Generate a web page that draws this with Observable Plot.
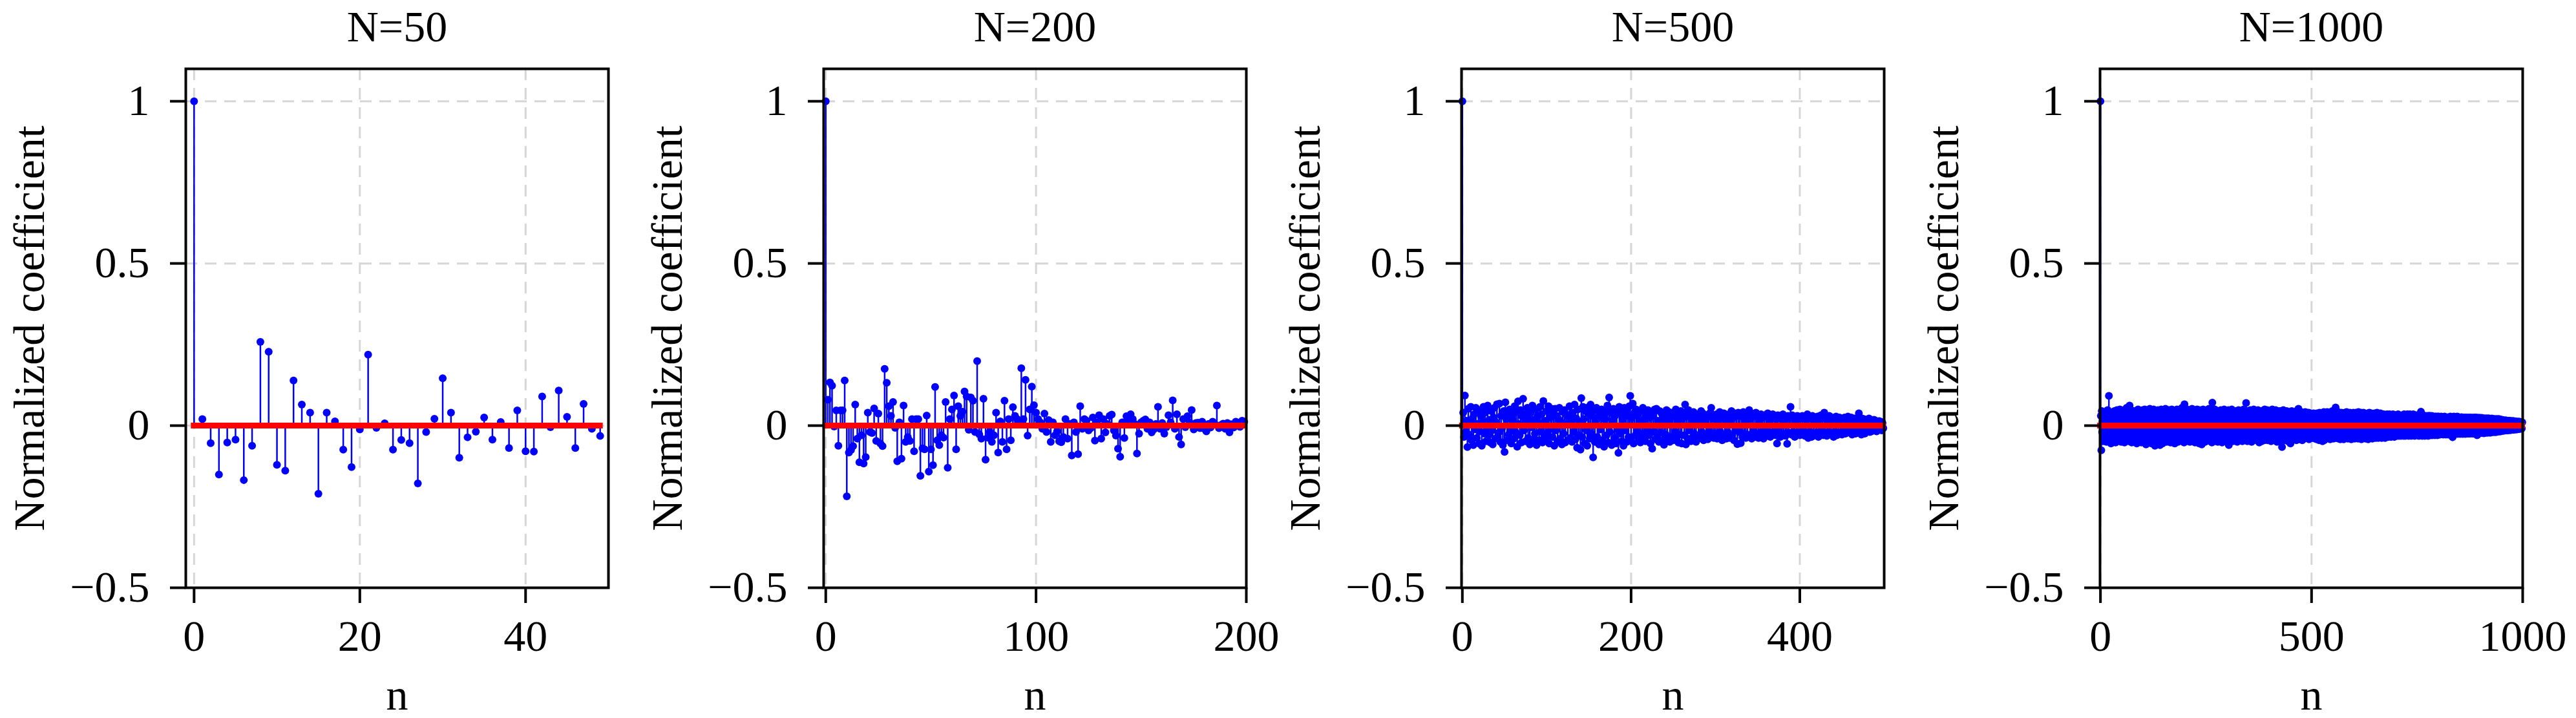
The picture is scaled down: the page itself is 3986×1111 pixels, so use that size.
<!DOCTYPE html>
<html>
<head>
<meta charset="utf-8">
<script src="https://cdn.jsdelivr.net/npm/d3@7"></script>
<script src="https://cdn.jsdelivr.net/npm/@observablehq/plot@0.6"></script>
<style>
  html, body { margin: 0; padding: 0; background: #ffffff; }
  #wrap { position: relative; width: 3986px; height: 1111px; overflow: hidden; background: #ffffff; }
  .panel { position: absolute; top: 0; }
</style>
</head>
<body>
<div id="wrap"></div>
<script>
// ---------------- DATA ----------------
const titles = ["N=50", "N=200", "N=500", "N=1000"];
const Ns = [50, 200, 500, 1000];
const xTicks = [[0, 20, 40], [0, 100, 200], [0, 200, 400], [0, 500, 1000]];
const yTicks = [-0.5, 0, 0.5, 1];
const yTickLabels = ["−0.5", "0", "0.5", "1"];
const xLabel = "n";
const yLabel = "Normalized coefficient";

// normalized coefficients, in thousandths
const coef50 = [
  1000, 20, -54, -151, -52, -43, -168, -62, 258, 228,
  -121, -139, 139, 65, 40, -210, 40, 13, -74, -128,
  -12, 219, -7, 7, -74, -44, -54, -178, -20, 21,
  146, 40, -99, -36, -19, 25, -43, 11, -69, 47,
  -79, -80, 90, -5, 108, 27, -69, 67, -10, -32
];

const coef200 = [
  1000, 80, 133, 123, -3, 47, -62, 47, 47, 139,
  -218, -83, -75, -63, 65, -40, -113, -30, -117, -97,
  40, -20, -23, 53, -47, 37, -55, -63, 175, 132,
  60, 30, 73, -7, -110, 10, -102, 62, -50, -35,
  -47, 20, -79, 20, 20, -155, -70, -73, 31, -142,
  -73, -122, 119, -45, -60, -30, -37, 73, -130, 20,
  50, 93, -73, 60, 30, 43, 105, 90, -13, 87,
  77, -20, 199, -27, -40, 83, -105, -37, -20, -50,
  -30, 40, -83, 13, -50, 77, -73, 20, -45, 57,
  30, 20, 10, 177, 20, 141, -31, 50, 120, 63,
  40, 20, 10, -10, 37, -20, 17, -50, 10, -30,
  -18, -48, -51, -35, 20, -40, 5, -92, 10, -20,
  -88, 60, -10, 20, 15, -15, -8, 25, -46, 10,
  32, -40, 20, -21, 5, 30, 34, -15, -31, -71,
  -96, 10, -38, 29, 15, 35, 20, 5, -86, -25,
  10, 15, 19, -10, 10, -21, -12, 5, 58, -10,
  8, -25, -5, 32, 10, 78, -10, 35, -35, -58,
  20, -5, 29, 10, 48, -12, 8, 9, -8, 12,
  -10, -18, 5, -6, 12, 4, 62, -8, 2, 6,
  -10, 8, -21, 4, -6, 12, 8, -4, 15, 12
];

const coef500 = [
  1000, 40, -35, 93, -20, 15, -66, 52, -28, 8,
  58, -45, 22, -60, 35, -12, 55, -38, 5, 48,
  -55, -18, 30, -62, 12, 58, -25, 40, -48, -8,
  62, -30, 18, -52, 45, -15, -58, 25, 55, -40,
  10, 66, -35, -22, 68, -50, 30, -8, -60, 45,
  -81, 72, 20, -45, 38, -28, 50, -12, -55, 33,
  15, -40, 60, -20, 42, -65, 75, 5, -30, 48,
  -52, 28, 83, -15, 35, -48, 12, 55, -38, 22,
  -58, 40, -5, 62, -42, 18, -25, 50, -60, 30,
  8, -45, 58, -18, 35, -52, 76, -30, 15, -40,
  45, -22, 60, -55, 25, -10, 52, -35, 38, -62,
  52, -15, 30, -48, 20, 55, -40, 10, -58, 42,
  -25, 48, -52, 35, 5, -45, 28, 60, -38, 15,
  -50, 40, -20, 65, -42, 22, -68, 50, -30, 10,
  -74, 85, -35, 58, 20, -55, 45, -15, -62, 38,
  58, -40, 65, -25, 30, -98, 48, -50, 18, 55,
  -35, 25, -58, 42, -12, 50, -45, 35, -65, 20,
  48, -30, 62, -52, 87, -20, 40, -60, 15, 52,
  -38, 30, -55, 45, -10, -84, 58, -25, 38, -48,
  20, -62, 55, -15, 42, -50, 30, -35, 60, 92,
  -40, 25, 68, -55, 40, -30, 50, -20, 35, -45,
  15, -52, 45, -25, 55, -38, 20, -48, 38, -10,
  48, -30, 25, -55, 40, -71, 30, -20, 50, -42,
  52, -35, 15, -50, 45, -22, 38, -45, 20, -59,
  35, -28, 48, -40, 12, 42, -50, 25, -35, 40,
  -45, 30, -20, 50, -38, 15, -52, 35, -28, 45,
  -55, 22, 40, -30, 65, -58, 28, -40, 48, -15,
  38, -48, 20, -35, 42, -25, 30, -50, 15, 35,
  -40, 25, -30, 45, -20, 38, -45, 12, 32, -35,
  28, -42, 35, -18, 40, 55, -30, 22, -38, 30,
  -25, 35, -40, 18, -30, 42, -20, 30, -45, 25,
  38, -32, 15, -40, 28, -22, 35, -38, 20, 45,
  -30, 25, -45, 38, -15, 30, -57, 40, -20, 32,
  -54, 28, -35, 42, -25, 18, -38, 30, -28, 40,
  48, -30, 22, -40, 35, -18, 28, -35, 40, -25,
  30, -38, 15, -28, 35, -20, 25, -40, 32, -15,
  28, -32, 38, -22, 18, -35, 30, -25, 35, -20,
  25, -30, 20, -55, 32, -18, 28, -35, 22, -30,
  35, -25, 18, -32, 28, -56, 30, -22, 25, 58,
  -28, 32, -20, 25, -35, 18, -25, 30, -22, 28,
  -30, 22, -25, 30, -18, 25, -32, 20, -28, 35,
  -38, 28, -20, 22, -35, 30, -25, 18, -30, 25,
  -22, 28, -35, 20, -25, 32, -18, 25, -30, 40,
  -28, 20, -32, 25, -20, 30, -25, 18, -28, 22,
  -35, 25, -20, 28, -30, 18, -22, 25, -25, 20,
  -28, 22, -18, 25, -25, 20, -22, 28, -20, 18,
  -22, 25, -28, 20, -18, 22, -25, 18, -20, 25,
  38, -20, 15, -28, 22, -18, 20, -25, 15, -20,
  18, -15, 22, -20, 15, -18, 12, -15, 18, -12,
  15, -18, 10, -12, 14, -10, 12, -15, 8, -8
];

const coef1000 = [
  1000, 30, -76, 45, -20, 12, -48, 38, -30, 22,
  -45, 40, -15, 28, -50, 35, -8, 48, -38, 18,
  92, -42, 25, -30, 40, -55, 15, 35, -25, 42,
  -48, 20, -35, 45, -12, 30, -52, 38, -20, 48,
  -30, 25, -45, 15, 40, -38, 50, -22, 32, -50,
  45, -28, 18, -42, 35, -15, 48, -52, 28, -35,
  40, -20, 55, -45, 22, -30, 42, -48, 15, 62,
  -38, 30, -25, 48, -52, 20, -40, 35, -18, 45,
  -50, 28, -32, 42, -15, 38, -55, 25, -42, 50,
  -22, 35, -48, 18, 45, -30, 40, -52, 22, -38,
  48, -25, 32, -45, 15, 50, -40, 28, -58, 38,
  -20, 45, -35, 25, -50, 40, -28, 52, -45, 18,
  35, -55, 42, -22, 30, -48, 50, -32, 20, -62,
  45, -38, 28, -52, 38, -18, 48, -45, 25, -35,
  40, -60, 32, -25, 50, -42, 18, -55, 45, -30,
  38, -48, 22, -35, 52, -40, 30, -50, 15, 42,
  -45, 35, -28, 48, -38, 25, -52, 40, -20, 50,
  -35, 28, -48, 42, -25, 38, -55, 30, -42, 45,
  -30, 50, -40, 22, -50, 35, -28, 48, -45, 32,
  -38, 42, -22, 55, -48, 30, -35, 45, -52, 66,
  -30, 40, -45, 28, -38, 50, -25, 35, -48, 42,
  -35, 30, -50, 45, -20, 38, -42, 52, -30, 25,
  -48, 40, -28, 35, -52, 45, -38, 30, -45, 50,
  -25, 42, -40, 32, -55, 48, -30, 38, -45, 28,
  -58, 45, -35, 50, -42, 30, -28, 40, -50, 35,
  -38, 48, -25, 42, -45, 35, -30, 52, -40, 28,
  -48, 38, -35, 45, -52, 71, -28, 40, -42, 32,
  -45, 50, -30, 35, -48, 42, -38, 28, -50, 45,
  -32, 40, -45, 30, -40, 48, -28, 38, -52, 35,
  -40, 45, -35, 50, -30, 42, -48, 32, -38, 40,
  -45, 35, -30, 48, -60, 40, -25, 45, -42, 30,
  -38, 50, -35, 28, -48, 42, -32, 38, -45, 35,
  -40, 45, -28, 40, -50, 32, -38, 48, -30, 42,
  -45, 38, -35, 45, -42, 30, -48, 40, -32, 50,
  -38, 42, -45, 35, -30, 70, -40, 28, -48, 45,
  -35, 40, -42, 32, -38, 48, -30, 45, -50, 35,
  -40, 38, -32, 50, -45, 30, -38, 42, -28, 40,
  -45, 35, -40, 48, -30, 42, -52, 38, -35, 45,
  -32, 40, -48, 30, -42, 45, -38, 35, -45, 50,
  -30, 42, -40, 38, -35, 48, -45, 32, -38, 40,
  -42, 45, -30, 35, -48, 40, -35, 50, -40, 30,
  -38, 42, -45, 32, -40, 48, -32, 38, -50, 45,
  -35, 40, -42, 30, -38, 45, -48, 35, -30, 42,
  -66, 38, -40, 48, -35, 30, -45, 42, -38, 35,
  -42, 45, -32, 40, -48, 35, -38, 42, -30, 38,
  -55, 40, -35, 45, -40, 32, -42, 38, -35, 40,
  -38, 42, -30, 35, -45, 40, -32, 48, -40, 52,
  -35, 38, -42, 30, -38, 42, -30, 35, -45, 40,
  -32, 38, -40, 35, -30, 42, -38, 32, -35, 40,
  -38, 35, -32, 40, -42, 30, -35, 38, -30, 35,
  -32, 35, -38, 30, -35, 38, -30, 32, -40, 35,
  -35, 30, -42, 38, -30, 35, -38, 32, -45, 40,
  -30, 38, -35, 32, -40, 35, -48, 30, -38, 42,
  -45, 35, -32, 40, -38, 30, -35, 42, -30, 38,
  -35, 40, -38, 32, -42, 35, -30, 38, -35, 45,
  -32, 38, -40, 35, -30, 42, -38, 56, -35, 40,
  -38, 35, -30, 42, -40, 38, -32, 35, -42, 30,
  -35, 40, -38, 32, -30, 38, -42, 35, -32, 40,
  -30, 35, -38, 42, -35, 30, -40, 38, -32, 35,
  -38, 40, -30, 35, -42, 38, -35, 32, -38, 40,
  -35, 38, -40, 30, -32, 40, -38, 35, -30, 38,
  -40, 42, -35, 32, -38, 35, -30, 40, -42, 38,
  -32, 35, -38, 40, -30, 38, -35, 32, -40, 35,
  -38, 30, -35, 38, -42, 35, -30, 40, -38, 32,
  -35, 38, -30, 35, -40, 32, -38, 35, -32, 38,
  -30, 35, -38, 32, -35, 40, -30, 35, -38, 30,
  -35, 32, -30, 38, -35, 30, -38, 35, -32, 30,
  -32, 35, -30, 32, -38, 30, -35, 32, -30, 35,
  -30, 32, -35, 30, -32, 35, -30, 28, -35, 32,
  -32, 30, -28, 35, -30, 32, -35, 30, -28, 32,
  -30, 32, -28, 30, -32, 35, -30, 28, -32, 30,
  -28, 30, -32, 28, -30, 32, -28, 30, -32, 35,
  -30, 28, -32, 30, -28, 32, -30, 35, -28, 30,
  -32, 30, -28, 35, -30, 28, -32, 30, -28, 32,
  -30, 35, -28, 30, -32, 28, -30, 32, -28, 30,
  -28, 32, -30, 28, -32, 30, -28, 35, -30, 43,
  -28, 30, -32, 28, -30, 32, -28, 30, -32, 28,
  -30, 28, -28, 30, -30, 28, -32, 30, -28, 30,
  -28, 30, -30, 28, -28, 30, -30, 28, -26, 28,
  -28, 26, -30, 28, -26, 28, -28, 26, -30, 28,
  -26, 28, -25, 26, -28, 25, -26, 28, -25, 26,
  -25, 26, -28, 25, -26, 28, -25, 26, -28, 25,
  -26, 25, -25, 26, -28, 25, -26, 25, -25, 28,
  -25, 26, -26, 25, -36, 26, -25, 28, -26, 25,
  -26, 25, -25, 26, -25, 28, -26, 25, -25, 26,
  -25, 25, -26, 25, -25, 26, -25, 25, -26, 25,
  -24, 25, -25, 24, -26, 25, -24, 25, -25, 24,
  -25, 24, -24, 25, -25, 24, -24, 25, -24, 24,
  -24, 24, -25, 24, -24, 25, -24, 24, -24, 25,
  -24, 24, -30, 24, -24, 24, -24, 24, -24, 24,
  -22, 22, -22, 24, -22, 22, -22, 22, -24, 22,
  -22, 22, -22, 22, -22, 22, -22, 22, -22, 22,
  -20, 22, -22, 20, -22, 20, -20, 22, -20, 20,
  -20, 20, -20, 20, -20, 20, -20, 20, -20, 20,
  -18, 20, -18, 20, -18, 20, -18, 18, -18, 18,
  -16, 18, -16, 16, -16, 16, -16, 16, -15, 16,
  -15, 16, -15, 15, -15, 15, -14, 15, -14, 15,
  -14, 14, -14, 14, -13, 14, -13, 14, -13, 14,
  -12, 13, -12, 13, -12, 12, -12, 12, -11, 12,
  -11, 12, -10, 12, -10, 11, -10, 11, -9, 10
];

const coefs = [coef50, coef200, coef500, coef1000];

// ---------------- LAYOUT ----------------
const FONT = "'Liberation Serif', 'Times New Roman', 'DejaVu Serif', serif";
const FS = 68;
const FRAME_LEFT = [287, 1274, 2261, 3249];
const FRAME_W = 654;
const ML = 280, MR = 40, MT = 106, MB = 202, H = 1111;

const wrap = document.getElementById("wrap");

coefs.forEach((vals, k) => {
  const N = Ns[k];
  const data = vals.map((v, i) => ({n: i, v: v / 1000}));
  const fig = Plot.plot({
    width: ML + FRAME_W + MR,
    height: H,
    marginLeft: ML,
    marginRight: MR,
    marginTop: MT,
    marginBottom: MB,
    style: {fontFamily: FONT, fontSize: FS + "px", color: "black", background: "white", overflow: "visible"},
    x: {domain: [-1, N]},
    y: {domain: [-0.5, 1.1]},
    marks: [
      Plot.gridX(xTicks[k], {stroke: "#d6d6d6", strokeOpacity: 1, strokeWidth: 3, strokeDasharray: "18,12"}),
      Plot.gridY(yTicks, {stroke: "#d6d6d6", strokeOpacity: 1, strokeWidth: 3, strokeDasharray: "18,12"}),
      Plot.ruleX(data, {x: "n", y1: 0, y2: "v", stroke: "#0000ff", strokeWidth: 2.5}),
      Plot.dot(data, {x: "n", y: "v", r: 6, fill: "#0000ff", stroke: "none"}),
      Plot.ruleY([0], {x1: 0, x2: N - 1, stroke: "#ff0000", strokeWidth: 9, strokeLinecap: "square"}),
      Plot.frame({stroke: "black", strokeWidth: 4}),
      Plot.axisX(xTicks[k], {tickSize: 24, tickPadding: 25, strokeWidth: 4, fontSize: FS, label: null, tickFormat: d => String(d)}),
      Plot.axisY(yTicks, {tickSize: 24, tickPadding: 32, strokeWidth: 4, fontSize: FS, label: null, tickFormat: d => yTickLabels[yTicks.indexOf(d)]}),
      Plot.text([titles[k]], {frameAnchor: "top", dy: -43, lineAnchor: "bottom", fontSize: FS, fill: "black"}),
      Plot.text([xLabel], {frameAnchor: "bottom", dy: 188, lineAnchor: "bottom", fontSize: FS, fill: "black"}),
      Plot.text([yLabel], {frameAnchor: "left", dx: -220, rotate: -90, lineAnchor: "bottom", textAnchor: "middle", fontSize: FS, fill: "black"})
    ]
  });
  const div = document.createElement("div");
  div.className = "panel";
  div.style.left = (FRAME_LEFT[k] - ML) + "px";
  div.appendChild(fig);
  wrap.appendChild(div);
});
</script>
</body>
</html>
